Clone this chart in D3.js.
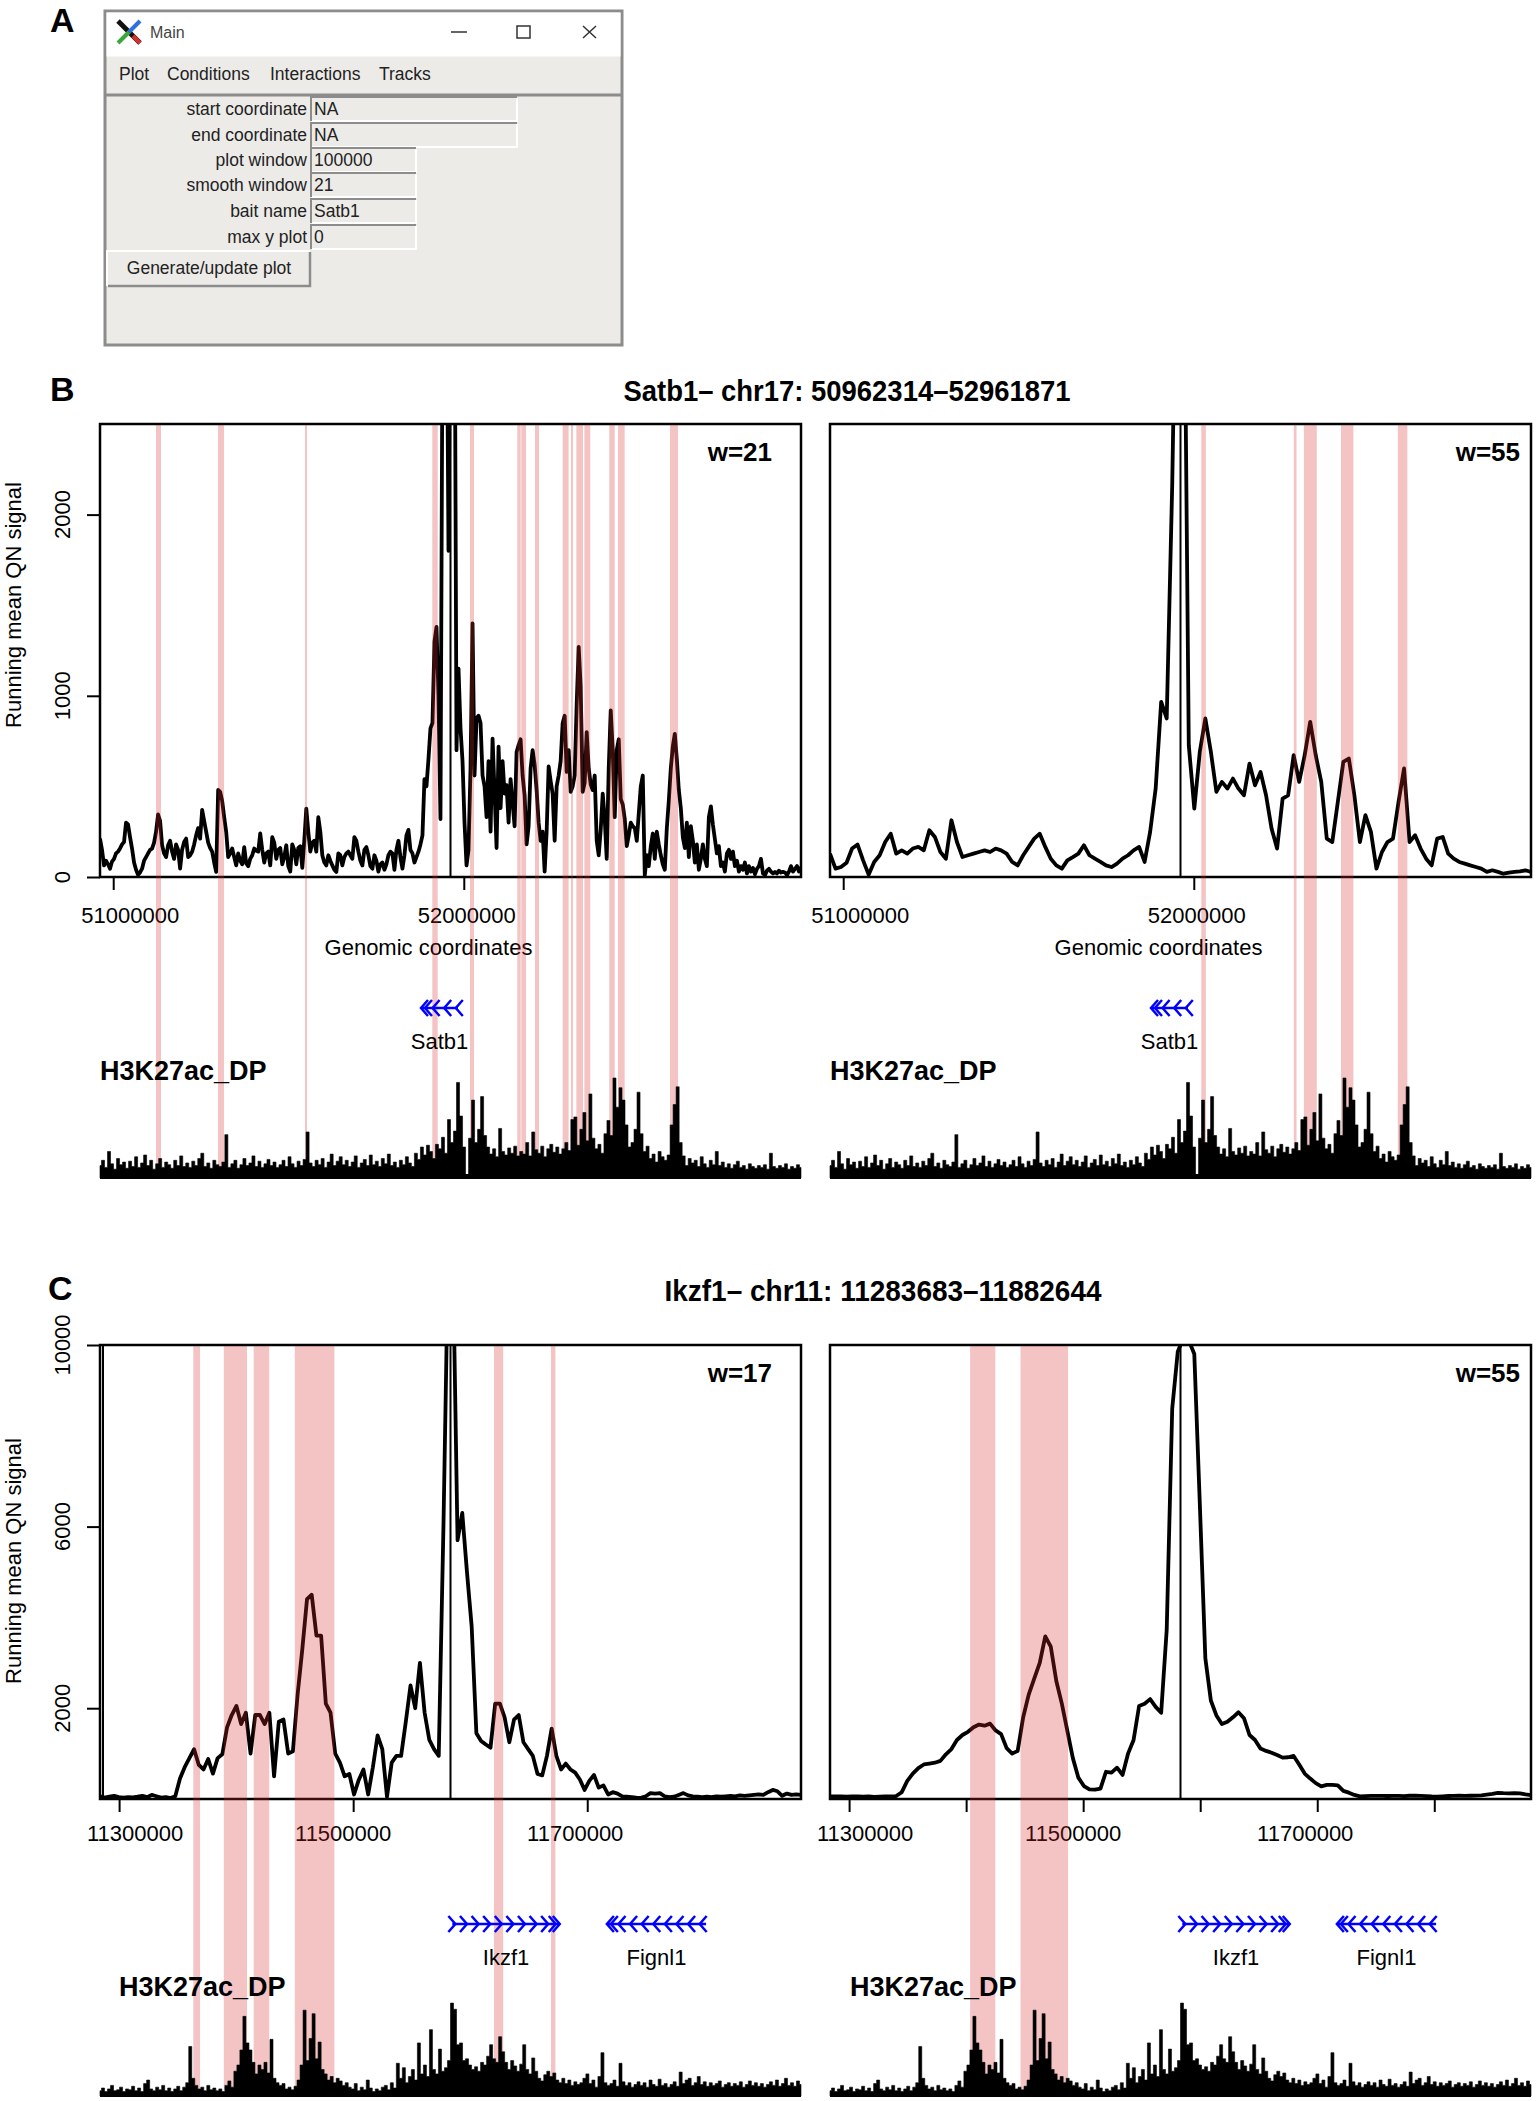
<!DOCTYPE html>
<html>
<head>
<meta charset="utf-8">
<script src="https://cdn.jsdelivr.net/npm/d3@7"></script>
<style>
  body { margin: 0; background: #fff; }
  svg { display: block; }
  text { font-family: "Liberation Sans", Arial, Helvetica, sans-serif; fill: #000; }
</style>
</head>
<body>
<div id="fig"></div>
<script>
// ---------- data ----------
const satbRange = [50962314, 52961871];
const ikzfRange = [11283683, 11882644];

const satbYTicks = [0, 1000, 2000];
const ikzfYTicks = [2000, 6000, 10000];
const satbXTicks = [51000000, 52000000];
const ikzfXTicksLeft = [11300000, 11500000, 11700000];
const ikzfXTicksRight = [11300000, 11400000, 11500000, 11600000, 11700000, 11800000];
const satbXLabels = [51000000, 52000000];
const ikzfXLabels = [11300000, 11500000, 11700000];

// running mean QN signal, evenly spaced bins across the window
const satbW21 = [212,150,64,90,70,46,85,100,130,140,
  157,180,193,300,290,220,157,80,40,12,
  25,46,90,110,130,150,157,190,250,345,
  310,175,130,110,175,200,140,100,180,150,
  46,150,193,212,110,120,140,180,230,270,
  212,370,310,250,190,160,140,80,28,480,
  470,420,330,250,110,130,157,110,64,130,
  90,70,165,75,60,100,120,157,145,140,
  240,150,80,130,140,64,220,190,100,150,
  160,70,110,175,60,30,180,150,70,160,
  170,50,200,377,250,140,190,200,140,330,
  250,120,80,64,120,90,64,40,28,130,
  120,64,110,130,140,120,100,220,200,140,
  90,64,150,165,120,60,46,120,90,30,
  70,80,40,70,120,140,130,40,150,200,
  110,46,120,230,260,150,130,80,110,140,
  180,230,540,500,650,820,850,1300,1380,1000,
  320,3000,3500,3500,1800,3500,3500,3500,700,1150,
  820,640,300,64,150,600,1400,560,875,890,
  850,560,500,330,640,250,764,470,160,720,
  380,640,460,507,300,540,410,280,690,728,
  760,560,450,180,280,600,700,620,480,300,
  200,250,30,250,610,530,460,200,500,560,
  640,850,890,580,700,470,500,560,950,1270,
  1050,470,520,800,600,510,480,560,200,120,
  260,460,320,100,600,920,700,330,700,760,
  430,400,320,170,230,300,280,270,200,350,
  500,560,10,120,60,170,240,100,250,180,
  120,70,40,270,420,600,720,790,650,480,
  380,220,160,300,110,280,200,80,180,40,
  100,180,100,60,330,390,290,210,130,170,
  60,80,30,130,150,100,140,60,90,30,
  60,40,80,20,60,30,50,15,45,60,
  100,20,10,35,45,30,20,28,20,35,
  25,28,25,10,30,60,30,45,60,30,
  55];

const satbW55 = [129,46,55,79,157,179,92,13,83,120,
  193,239,129,147,129,157,166,147,258,221,
  138,101,313,193,110,120,129,138,147,138,
  157,147,129,83,64,120,166,212,239,166,
  101,64,46,92,110,129,175,120,101,83,
  64,55,74,101,120,147,166,83,249,488,
  967,875,2164,4000,4000,727,378,691,875,691,
  470,525,488,543,488,451,626,506,580,451,
  267,157,433,451,672,525,672,856,672,525,
  212,193,414,635,654,451,193,341,249,46,
  138,193,212,414,599,193,230,157,101,64,
  212,221,129,101,83,74,64,55,46,28,
  37,28,18,24,28,31,37,28];

const ikzfW17 = [60,30,50,70,40,30,40,35,50,70,
  40,90,60,30,40,20,60,450,700,900,
  1096,750,650,880,560,900,985,1578,1850,2050,
  1650,1900,1000,1850,1850,1650,1900,500,1700,1750,
  1000,1050,2300,3300,4400,4500,3600,3600,2100,1900,
  1000,800,500,550,100,420,650,100,700,1400,
  1100,50,800,950,950,1700,2500,2000,3000,1900,
  1300,1100,950,6000,12000,12000,5700,6300,5000,3800,
  1450,1280,1200,1130,2100,2100,1800,1250,1750,1850,
  1250,1100,950,550,520,950,1550,950,650,780,
  650,580,430,200,400,530,250,300,100,150,
  120,60,50,40,30,25,60,130,120,130,
  60,40,50,90,130,80,60,50,40,50,
  40,60,50,60,70,60,80,70,80,90,
  100,90,150,200,170,70,120,90,100,90];

const ikzfW55 = [59,55,60,50,55,60,50,55,45,50,
  55,60,65,150,400,560,680,760,780,800,
  840,985,1100,1300,1410,1480,1580,1640,1615,1660,
  1510,1430,1120,1000,1059,1800,2300,2650,3000,3580,
  3355,2600,2100,1500,900,470,285,210,205,230,
  600,580,690,530,1000,1300,2050,2100,2200,2030,
  1900,3726,8600,9850,10150,10100,9800,6500,3100,2170,
  1840,1650,1700,1800,1911,1780,1410,1300,1110,1059,
  1020,970,911,920,948,760,560,450,350,280,
  310,310,300,180,140,90,59,65,70,68,
  70,66,68,70,65,72,74,68,62,55,
  52,60,66,70,74,70,72,75,80,95,
  111,133,128,126,130,125,100,85];

// H3K27ac_DP ChIP track heights (same track under both panels of a row)
const satbChip = [14,20,12,30,16,10,22,15,18,11,
  19,13,24,12,17,26,14,20,10,16,
  22,12,18,15,11,20,14,25,13,17,
  12,19,14,22,28,13,17,11,20,15,
  13,18,49,12,16,20,11,15,22,14,
  17,25,13,19,12,16,21,14,18,12,
  15,20,13,24,16,12,19,14,21,52,
  17,13,20,15,22,12,18,27,14,19,
  24,15,20,13,18,25,12,17,21,14,
  26,15,19,13,22,16,27,14,18,12,
  20,15,24,17,13,28,21,35,26,37,
  30,22,38,33,46,28,66,40,53,108,
  70,35,0,45,88,40,55,92,48,35,
  27,33,24,56,30,26,34,28,36,25,
  30,27,40,25,52,32,28,36,24,33,
  38,29,35,27,33,40,31,66,69,37,
  55,74,42,95,45,33,38,28,50,65,
  48,113,80,102,88,60,35,40,55,97,
  50,30,36,22,27,18,30,24,20,26,
  60,83,103,40,25,14,22,17,20,13,
  24,16,12,20,15,30,14,18,12,16,
  11,15,19,12,14,10,16,13,11,14,
  12,15,10,28,13,11,14,12,16,10,
  13,11,15,12];

const ikzfChip = [6,9,5,8,12,6,7,10,5,8,
  7,11,6,9,5,14,18,8,6,10,
  7,12,6,9,5,8,11,6,10,15,
  56,20,12,8,10,6,12,7,9,6,
  8,5,12,17,10,28,35,52,90,60,
  52,38,25,35,30,38,26,64,20,15,
  12,14,8,10,7,11,18,35,97,40,
  65,93,42,61,30,25,18,22,15,20,
  17,12,15,10,8,14,6,10,7,18,
  9,5,8,6,10,12,7,15,9,37,
  20,32,15,22,30,18,60,25,35,22,
  75,30,25,53,28,32,40,105,98,58,
  60,40,42,35,30,33,28,38,35,45,
  58,42,38,67,50,38,30,40,34,28,
  36,58,30,25,43,28,20,17,24,28,
  22,26,18,15,20,14,18,12,16,13,
  15,20,25,14,18,10,22,49,15,12,
  14,18,11,37,16,12,15,10,13,16,
  12,15,10,18,13,11,19,12,14,10,
  13,16,11,27,14,18,20,12,15,22,
  13,16,11,15,12,14,17,10,13,15,
  11,14,12,16,10,13,17,12,15,11,
  14,10,13,16,12,18,11,14,20,12,
  15,11,17,13];

// called interaction regions (genomic start, end)
const satbBandsW21 = [[51122048,51136310],[51298897,51316011],[51547056,51552761],
  [51910161,51925564],[52017702,52029112],[52152620,52162318],[52164030,52177436],
  [52203108,52214518],[52281934,52299048],[52305894,52311598],[52321018,52340129],
  [52343836,52360950],[52415019,52430422],[52439857,52458968],[52588182,52611001]];
const satbBandsW55 = [[52021400,52034500],[52285400,52293100],[52314066,52350862],
  [52419890,52455260],[52581907,52609290]];
const ikzfBandsW17 = [[11363399,11369208],[11389458,11409280],[11415004,11428247],
  [11450120,11483954],[11620317,11628177],[11669017,11672777]];
const ikzfBandsW55 = [[11403384,11424915],[11446446,11487116]];

// genes
const satbGeneNames = ["Satb1"];
const satbGeneStart = [51877934];
const satbGeneEnd = [51983473];
const satbGeneStrand = [-1];
const ikzfGeneNames = ["Ikzf1", "Fignl1"];
const ikzfGeneStart = [11584688, 11716778];
const ikzfGeneEnd = [11676536, 11801535];
const ikzfGeneStrand = [1, -1];

// ---------- svg ----------
const W = 1539, H = 2101;
const svg = d3.select("#fig").append("svg")
    .attr("width", W)
    .attr("height", H)
    .attr("viewBox", `0 0 ${W} ${H}`);

const bandColor = "rgb(216,43,43)";
const bandOpacity = 0.28;

// ---------- panel A : the Tk window ----------
function drawWindow() {
    const g = svg.append("g");
    const fs = "17.5px";
    g.append("rect").attr("x", 105).attr("y", 11).attr("width", 517).attr("height", 334)
        .attr("fill", "#ecebe8").attr("stroke", "#8c8c8c").attr("stroke-width", 3);
    g.append("rect").attr("x", 106.5).attr("y", 12.5).attr("width", 514).attr("height", 44)
        .attr("fill", "#fff");
    // X icon
    g.append("path").attr("d", "M118,21 L140,43").attr("stroke", "#111").attr("stroke-width", 5);
    g.append("path").attr("d", "M140,21 L129,32").attr("stroke", "#2f6fe0").attr("stroke-width", 4);
    g.append("path").attr("d", "M129,32 L118,43").attr("stroke", "#38a838").attr("stroke-width", 4);
    g.append("path").attr("d", "M133,36 L140,43").attr("stroke", "#d8302c").attr("stroke-width", 4);
    g.append("text").attr("x", 150).attr("y", 38).style("font-size", "16px").style("fill", "#444").text("Main");
    g.append("path").attr("d", "M451,32 L467,32").attr("stroke", "#333").attr("stroke-width", 1.5);
    g.append("rect").attr("x", 517).attr("y", 26).attr("width", 13).attr("height", 12)
        .attr("fill", "none").attr("stroke", "#333").attr("stroke-width", 1.5);
    g.append("path").attr("d", "M583,26 L596,38 M596,26 L583,38").attr("stroke", "#333").attr("stroke-width", 1.5);
    // menu bar
    g.append("path").attr("d", "M106,95 L621,95").attr("stroke", "#8c8c8c").attr("stroke-width", 3);
    const menus = [["Plot", 119], ["Conditions", 167], ["Interactions", 270], ["Tracks", 379]];
    g.selectAll(".menu").data(menus).join("text")
        .attr("x", d => d[1]).attr("y", 80)
        .style("font-size", fs).style("fill", "#222")
        .text(d => d[0]);
    // form
    const labels = ["start coordinate", "end coordinate", "plot window", "smooth window", "bait name", "max y plot"];
    const values = ["NA", "NA", "100000", "21", "Satb1", "0"];
    const tops = [97, 123, 148, 173, 199, 225];
    const widths = [206, 206, 105, 105, 105, 105];
    labels.forEach((lab, i) => {
        const y0 = tops[i], w = widths[i];
        g.append("text").attr("x", 307).attr("y", y0 + 18).attr("text-anchor", "end")
            .style("font-size", fs).style("fill", "#222").text(lab);
        g.append("path").attr("d", `M311,${y0 + 24} L311,${y0} L${311 + w},${y0}`)
            .attr("fill", "none").attr("stroke", "#8c8c8c").attr("stroke-width", 2);
        g.append("path").attr("d", `M312,${y0 + 24} L${311 + w},${y0 + 24} L${311 + w},${y0 + 1}`)
            .attr("fill", "none").attr("stroke", "#fff").attr("stroke-width", 2);
        g.append("text").attr("x", 314).attr("y", y0 + 18)
            .style("font-size", fs).style("fill", "#222").text(values[i]);
    });
    // button
    g.append("path").attr("d", "M107,286 L107,251 L310,251").attr("fill", "none")
        .attr("stroke", "#fff").attr("stroke-width", 2);
    g.append("path").attr("d", "M108,286 L310,286 L310,252").attr("fill", "none")
        .attr("stroke", "#8c8c8c").attr("stroke-width", 2.5);
    g.append("text").attr("x", 209).attr("y", 274).attr("text-anchor", "middle")
        .style("font-size", fs).style("fill", "#222").text("Generate/update plot");
}
drawWindow();

// panel letters
[["A", 50, 32], ["B", 50, 401], ["C", 48, 1300]].forEach(d => {
    svg.append("text").attr("x", d[1]).attr("y", d[2])
        .style("font-size", "34px").style("font-weight", "bold").text(d[0]);
});

// ---------- panels B and C ----------
const rows = [
    {
        title: "Satb1\u2013 chr17: 50962314\u201352961871", titleX: 847, titleY: 401, titleLen: 447,
        range: satbRange, top: 424, bottom: 877, ymax: 2500, yTicks: satbYTicks,
        xLabels: satbXLabels, labelDx: [17, 3], tickLabelY: 923, xTitle: true,
        yTitleY: 605, chip: satbChip, chipBase: 1178, bandBottom: 1172,
        geneY: 1008, trackLabelY: 1080,
        genes: satbGeneNames.map((n, i) => ({name: n, start: satbGeneStart[i], end: satbGeneEnd[i], strand: satbGeneStrand[i]})),
        panels: [
            {x0: 100, x1: 801, signal: satbW21, bands: satbBandsW21, w: "w=21", wX: 772, xTicks: satbXTicks, yAxis: true, trackLabelX: 100},
            {x0: 830, x1: 1531, signal: satbW55, bands: satbBandsW55, w: "w=55", wX: 1520, xTicks: satbXTicks, yAxis: false, trackLabelX: 830}
        ]
    },
    {
        title: "Ikzf1\u2013 chr11: 11283683\u201311882644", titleX: 883, titleY: 1301, titleLen: 437,
        range: ikzfRange, top: 1345, bottom: 1799, ymax: 10000, yTicks: ikzfYTicks,
        xLabels: ikzfXLabels, labelDx: [16, -10, -12], tickLabelY: 1841, xTitle: false,
        yTitleY: 1561, chip: ikzfChip, chipBase: 2096, bandBottom: 2090,
        geneY: 1924, trackLabelY: 1996,
        genes: ikzfGeneNames.map((n, i) => ({name: n, start: ikzfGeneStart[i], end: ikzfGeneEnd[i], strand: ikzfGeneStrand[i]})),
        panels: [
            {x0: 100, x1: 801, signal: ikzfW17, bands: ikzfBandsW17, w: "w=17", wX: 772, xTicks: ikzfXTicksLeft, yAxis: true, trackLabelX: 119, doubleEdge: true},
            {x0: 830, x1: 1531, signal: ikzfW55, bands: ikzfBandsW55, w: "w=55", wX: 1520, xTicks: ikzfXTicksRight, yAxis: false, trackLabelX: 850}
        ]
    }
];

let clipId = 0;

function drawGene(g, x, gene, yA) {
    const xs = x(gene.start), xe = x(gene.end);
    const dir = gene.strand > 0 ? 1 : -1;
    const tip = dir > 0 ? xe : xs;
    const len = Math.abs(xe - xs);
    g.append("line").attr("x1", xs).attr("x2", xe).attr("y1", yA).attr("y2", yA)
        .attr("stroke", "#0000ff").attr("stroke-width", 2.5);
    const pos = [tip, tip - dir * 4];
    for (let k = 1; k * 11.6 <= len + 1; k++) pos.push(tip - dir * k * 11.6);
    pos.forEach(p => {
        g.append("path")
            .attr("d", `M${p - dir * 7},${yA - 8} L${p},${yA} L${p - dir * 7},${yA + 8}`)
            .attr("fill", "none").attr("stroke", "#0000ff").attr("stroke-width", 2.5);
    });
    g.append("text").attr("x", (xs + xe) / 2).attr("y", yA + 41).attr("text-anchor", "middle")
        .style("font-size", "22px").text(gene.name);
}

rows.forEach(row => {
    svg.append("text")
        .attr("x", row.titleX).attr("y", row.titleY)
        .attr("text-anchor", "middle")
        .attr("textLength", row.titleLen).attr("lengthAdjust", "spacingAndGlyphs")
        .style("font-size", "29px").style("font-weight", "bold")
        .text(row.title);

    svg.append("text")
        .attr("transform", `translate(21,${row.yTitleY}) rotate(-90)`)
        .attr("text-anchor", "middle")
        .style("font-size", "22px")
        .text("Running mean QN signal");

    row.panels.forEach(p => {
        const g = svg.append("g");
        const x = d3.scaleLinear().domain(row.range).range([p.x0, p.x1]);
        const y = d3.scaleLinear().domain([0, row.ymax]).range([row.bottom, row.top]);
        const bin = d3.scaleLinear().domain([0, p.signal.length - 1]).range(row.range);

        const id = "clip" + (clipId++);
        g.append("clipPath").attr("id", id).append("rect")
            .attr("x", p.x0).attr("y", row.top).attr("width", p.x1 - p.x0).attr("height", row.bottom - row.top);

        // signal
        const line = d3.line()
            .x((d, i) => x(bin(i)))
            .y(d => y(d));
        g.append("path")
            .datum(p.signal)
            .attr("clip-path", `url(#${id})`)
            .attr("d", line)
            .attr("fill", "none")
            .attr("stroke", "#000")
            .attr("stroke-width", 3.8)
            .attr("stroke-linejoin", "round");

        // bait line at window centre
        const bait = (row.range[0] + row.range[1]) / 2;
        g.append("line").attr("x1", x(bait)).attr("x2", x(bait))
            .attr("y1", row.top).attr("y2", row.bottom)
            .attr("stroke", "#000").attr("stroke-width", 2);

        // box
        g.append("rect").attr("x", p.x0).attr("y", row.top)
            .attr("width", p.x1 - p.x0).attr("height", row.bottom - row.top)
            .attr("fill", "none").attr("stroke", "#000").attr("stroke-width", 2.5);
        if (p.doubleEdge) {
            g.append("line").attr("x1", p.x0 + 3).attr("x2", p.x0 + 3)
                .attr("y1", row.top).attr("y2", row.bottom)
                .attr("stroke", "#000").attr("stroke-width", 2);
        }

        // x axis ticks
        const xa = g.append("g")
            .attr("transform", `translate(0,${row.bottom})`)
            .call(d3.axisBottom(x).tickValues(p.xTicks).tickSize(13).tickSizeOuter(0).tickFormat(""));
        xa.select(".domain").remove();
        xa.selectAll("line").attr("stroke-width", 2);
        g.selectAll(".xlab").data(row.xLabels).join("text")
            .attr("x", (d, i) => x(d) + row.labelDx[i])
            .attr("y", row.tickLabelY)
            .attr("text-anchor", "middle")
            .style("font-size", "22px")
            .text(d => d3.format("d")(d));
        if (row.xTitle) {
            g.append("text").attr("x", (p.x0 + p.x1) / 2 - 22).attr("y", 955)
                .attr("text-anchor", "middle").style("font-size", "22px").text("Genomic coordinates");
        }

        // y axis
        if (p.yAxis) {
            const ya = g.append("g")
                .attr("transform", `translate(${p.x0},0)`)
                .call(d3.axisLeft(y).tickValues(row.yTicks).tickSize(13).tickSizeOuter(0).tickFormat(""));
            ya.select(".domain").remove();
            ya.selectAll("line").attr("stroke-width", 2);
            g.selectAll(".ylab").data(row.yTicks).join("text")
                .attr("transform", d => `translate(70,${y(d)}) rotate(-90)`)
                .attr("text-anchor", "middle")
                .style("font-size", "22px")
                .text(d => d);
        }

        g.append("text").attr("x", p.wX).attr("y", row.top + 37)
            .attr("text-anchor", "end")
            .style("font-size", "26px").style("font-weight", "bold")
            .text(p.w);

        // interaction bands
        g.selectAll(".band").data(p.bands).join("rect")
            .attr("x", d => x(d[0]))
            .attr("width", d => Math.max(2, x(d[1]) - x(d[0])))
            .attr("y", row.top + 1)
            .attr("height", row.bandBottom - row.top - 1)
            .attr("fill", bandColor)
            .attr("fill-opacity", bandOpacity);

        // genes
        row.genes.forEach(gene => drawGene(g, x, gene, row.geneY));

        // ChIP track as a solid histogram
        g.append("text").attr("x", p.trackLabelX).attr("y", row.trackLabelY)
            .style("font-size", "27px").style("font-weight", "bold").text("H3K27ac_DP");
        const chipBin = d3.scaleLinear().domain([0, row.chip.length - 1]).range(row.range);
        const yc = d3.scaleLinear().domain([0, 113]).range([row.chipBase, row.chipBase - 100]);
        const area = d3.area()
            .curve(d3.curveStep)
            .x((d, i) => x(chipBin(i)))
            .y0(row.chipBase)
            .y1(d => yc(d));
        g.append("path").datum(row.chip)
            .attr("d", area)
            .attr("fill", "#000")
            .attr("stroke", "#000")
            .attr("stroke-width", 0.6);
        g.append("rect").attr("x", p.x0).attr("y", row.chipBase - 4)
            .attr("width", p.x1 - p.x0).attr("height", 5).attr("fill", "#000");
    });
});
</script>
</body>
</html>
